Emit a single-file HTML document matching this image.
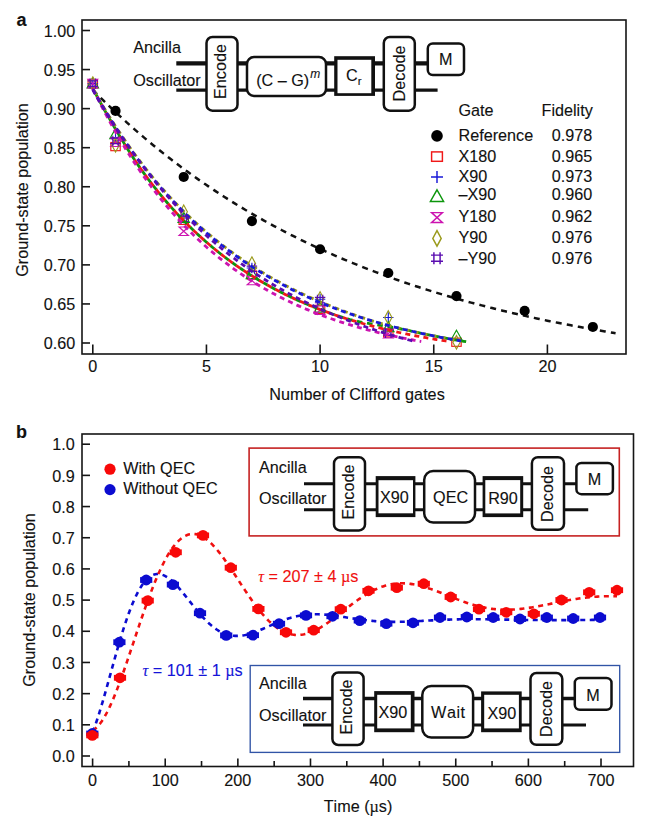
<!DOCTYPE html>
<html><head><meta charset="utf-8"><title>Figure</title>
<style>
html,body{margin:0;padding:0;background:#fff;}
body{width:650px;height:825px;overflow:hidden;}
svg{display:block;font-family:"Liberation Sans",sans-serif;}
text{stroke-width:0.12px;font-kerning:none;}
</style></head><body>
<svg width="650" height="825" viewBox="0 0 650 825">
<rect width="650" height="825" fill="#fff"/>
<g id="panelA">
<rect x="82" y="20" width="544" height="334" fill="none" stroke="#151515" stroke-width="1.6"/>
<line x1="82" x2="90" y1="343.00" y2="343.00" stroke="#151515" stroke-width="1.6"/>
<text transform="translate(75.20,349.20) scale(1,0.972)" font-size="16.2" text-anchor="end" fill="#111" stroke="#111" >0.60</text>
<line x1="82" x2="90" y1="303.94" y2="303.94" stroke="#151515" stroke-width="1.6"/>
<text transform="translate(75.20,310.14) scale(1,0.972)" font-size="16.2" text-anchor="end" fill="#111" stroke="#111" >0.65</text>
<line x1="82" x2="90" y1="264.88" y2="264.88" stroke="#151515" stroke-width="1.6"/>
<text transform="translate(75.20,271.07) scale(1,0.972)" font-size="16.2" text-anchor="end" fill="#111" stroke="#111" >0.70</text>
<line x1="82" x2="90" y1="225.81" y2="225.81" stroke="#151515" stroke-width="1.6"/>
<text transform="translate(75.20,232.01) scale(1,0.972)" font-size="16.2" text-anchor="end" fill="#111" stroke="#111" >0.75</text>
<line x1="82" x2="90" y1="186.75" y2="186.75" stroke="#151515" stroke-width="1.6"/>
<text transform="translate(75.20,192.95) scale(1,0.972)" font-size="16.2" text-anchor="end" fill="#111" stroke="#111" >0.80</text>
<line x1="82" x2="90" y1="147.69" y2="147.69" stroke="#151515" stroke-width="1.6"/>
<text transform="translate(75.20,153.89) scale(1,0.972)" font-size="16.2" text-anchor="end" fill="#111" stroke="#111" >0.85</text>
<line x1="82" x2="90" y1="108.62" y2="108.62" stroke="#151515" stroke-width="1.6"/>
<text transform="translate(75.20,114.82) scale(1,0.972)" font-size="16.2" text-anchor="end" fill="#111" stroke="#111" >0.90</text>
<line x1="82" x2="90" y1="69.56" y2="69.56" stroke="#151515" stroke-width="1.6"/>
<text transform="translate(75.20,75.76) scale(1,0.972)" font-size="16.2" text-anchor="end" fill="#111" stroke="#111" >0.95</text>
<line x1="82" x2="90" y1="30.50" y2="30.50" stroke="#151515" stroke-width="1.6"/>
<text transform="translate(75.20,36.70) scale(1,0.972)" font-size="16.2" text-anchor="end" fill="#111" stroke="#111" >1.00</text>
<line x1="92.80" x2="92.80" y1="344.5" y2="354" stroke="#151515" stroke-width="1.6"/>
<text transform="translate(92.80,371.50) scale(1,0.972)" font-size="16.2" text-anchor="middle" fill="#111" stroke="#111" >0</text>
<line x1="206.45" x2="206.45" y1="344.5" y2="354" stroke="#151515" stroke-width="1.6"/>
<text transform="translate(206.45,371.50) scale(1,0.972)" font-size="16.2" text-anchor="middle" fill="#111" stroke="#111" >5</text>
<line x1="320.10" x2="320.10" y1="344.5" y2="354" stroke="#151515" stroke-width="1.6"/>
<text transform="translate(320.10,371.50) scale(1,0.972)" font-size="16.2" text-anchor="middle" fill="#111" stroke="#111" >10</text>
<line x1="433.75" x2="433.75" y1="344.5" y2="354" stroke="#151515" stroke-width="1.6"/>
<text transform="translate(433.75,371.50) scale(1,0.972)" font-size="16.2" text-anchor="middle" fill="#111" stroke="#111" >15</text>
<line x1="547.40" x2="547.40" y1="344.5" y2="354" stroke="#151515" stroke-width="1.6"/>
<text transform="translate(547.40,371.50) scale(1,0.972)" font-size="16.2" text-anchor="middle" fill="#111" stroke="#111" >20</text>
<text transform="translate(357.00,400.10) scale(1,1.0)" font-size="16.2" text-anchor="middle" fill="#111" stroke="#111" >Number of Clifford gates</text>
<text transform="translate(27.50,190.00) rotate(-90) scale(1,1.0)" font-size="16.2" text-anchor="middle" fill="#111" stroke="#111">Ground-state population</text>
<text x="16.6" y="25.6" font-size="18" font-weight="bold" fill="#111" stroke="#111">a</text>
<path d="M92.80,89.91 L95.43,92.56 L98.05,95.19 L100.68,97.79 L103.31,100.38 L105.94,102.93 L108.56,105.47 L111.19,107.98 L113.82,110.47 L116.44,112.93 L119.07,115.37 L121.70,117.79 L124.33,120.19 L126.95,122.57 L129.58,124.92 L132.21,127.26 L134.83,129.57 L137.46,131.86 L140.09,134.13 L142.71,136.38 L145.34,138.60 L147.97,140.81 L150.60,143.00 L153.22,145.17 L155.85,147.31 L158.48,149.44 L161.10,151.55 L163.73,153.64 L166.36,155.71 L168.99,157.76 L171.61,159.79 L174.24,161.80 L176.87,163.80 L179.49,165.78 L182.12,167.73 L184.75,169.67 L187.38,171.60 L190.00,173.50 L192.63,175.39 L195.26,177.26 L197.88,179.12 L200.51,180.95 L203.14,182.77 L205.76,184.57 L208.39,186.36 L211.02,188.13 L213.65,189.88 L216.27,191.62 L218.90,193.34 L221.53,195.05 L224.15,196.74 L226.78,198.42 L229.41,200.08 L232.04,201.72 L234.66,203.35 L237.29,204.96 L239.92,206.56 L242.54,208.15 L245.17,209.72 L247.80,211.28 L250.43,212.82 L253.05,214.35 L255.68,215.86 L258.31,217.36 L260.93,218.85 L263.56,220.32 L266.19,221.78 L268.81,223.22 L271.44,224.66 L274.07,226.08 L276.70,227.48 L279.32,228.88 L281.95,230.26 L284.58,231.62 L287.20,232.98 L289.83,234.32 L292.46,235.65 L295.09,236.97 L297.71,238.28 L300.34,239.57 L302.97,240.86 L305.59,242.13 L308.22,243.39 L310.85,244.64 L313.48,245.87 L316.10,247.10 L318.73,248.31 L321.36,249.51 L323.98,250.71 L326.61,251.89 L329.24,253.06 L331.86,254.22 L334.49,255.36 L337.12,256.50 L339.75,257.63 L342.37,258.75 L345.00,259.85 L347.63,260.95 L350.25,262.04 L352.88,263.12 L355.51,264.18 L358.14,265.24 L360.76,266.29 L363.39,267.33 L366.02,268.35 L368.64,269.37 L371.27,270.38 L373.90,271.38 L376.53,272.38 L379.15,273.36 L381.78,274.33 L384.41,275.30 L387.03,276.25 L389.66,277.20 L392.29,278.14 L394.91,279.07 L397.54,279.99 L400.17,280.90 L402.80,281.80 L405.42,282.70 L408.05,283.59 L410.68,284.47 L413.30,285.34 L415.93,286.20 L418.56,287.06 L421.19,287.91 L423.81,288.75 L426.44,289.58 L429.07,290.40 L431.69,291.22 L434.32,292.03 L436.95,292.83 L439.58,293.63 L442.20,294.42 L444.83,295.20 L447.46,295.97 L450.08,296.74 L452.71,297.50 L455.34,298.25 L457.96,298.99 L460.59,299.73 L463.22,300.46 L465.85,301.19 L468.47,301.91 L471.10,302.62 L473.73,303.32 L476.35,304.02 L478.98,304.72 L481.61,305.40 L484.24,306.08 L486.86,306.76 L489.49,307.42 L492.12,308.08 L494.74,308.74 L497.37,309.39 L500.00,310.03 L502.63,310.67 L505.25,311.30 L507.88,311.93 L510.51,312.55 L513.13,313.16 L515.76,313.77 L518.39,314.37 L521.01,314.97 L523.64,315.56 L526.27,316.15 L528.90,316.73 L531.52,317.31 L534.15,317.88 L536.78,318.45 L539.40,319.01 L542.03,319.56 L544.66,320.11 L547.29,320.66 L549.91,321.20 L552.54,321.73 L555.17,322.26 L557.79,322.79 L560.42,323.31 L563.05,323.82 L565.68,324.34 L568.30,324.84 L570.93,325.34 L573.56,325.84 L576.18,326.33 L578.81,326.82 L581.44,327.31 L584.06,327.79 L586.69,328.26 L589.32,328.73 L591.95,329.20 L594.57,329.66 L597.20,330.12 L599.83,330.57 L602.45,331.02 L605.08,331.47 L607.71,331.91 L610.34,332.34 L612.96,332.78 L615.59,333.21" fill="none" stroke="#111" stroke-width="2.5" stroke-dasharray="6 5.2"/>
<rect x="88.10" y="79.54" width="9.40" height="8.18" fill="none" stroke="#f01818" stroke-width="1.15"/>
<rect x="110.83" y="142.50" width="9.40" height="8.18" fill="none" stroke="#f01818" stroke-width="1.15"/>
<rect x="179.02" y="216.25" width="9.40" height="8.18" fill="none" stroke="#f01818" stroke-width="1.15"/>
<rect x="247.21" y="270.94" width="9.40" height="8.18" fill="none" stroke="#f01818" stroke-width="1.15"/>
<rect x="315.40" y="305.32" width="9.40" height="8.18" fill="none" stroke="#f01818" stroke-width="1.15"/>
<rect x="383.59" y="328.75" width="9.40" height="8.18" fill="none" stroke="#f01818" stroke-width="1.15"/>
<rect x="451.78" y="338.13" width="9.40" height="8.18" fill="none" stroke="#f01818" stroke-width="1.15"/>
<path d="M87.58,83.62h10.44M92.80,78.40v10.44" stroke="#1818d8" stroke-width="1.15" fill="none"/>
<path d="M110.31,137.69h10.44M115.53,132.47v10.44" stroke="#1818d8" stroke-width="1.15" fill="none"/>
<path d="M178.50,218.00h10.44M183.72,212.78v10.44" stroke="#1818d8" stroke-width="1.15" fill="none"/>
<path d="M246.69,268.00h10.44M251.91,262.78v10.44" stroke="#1818d8" stroke-width="1.15" fill="none"/>
<path d="M314.88,299.25h10.44M320.10,294.03v10.44" stroke="#1818d8" stroke-width="1.15" fill="none"/>
<path d="M383.07,317.53h10.44M388.29,312.31v10.44" stroke="#1818d8" stroke-width="1.15" fill="none"/>
<path d="M92.80,77.88L98.54,87.97L87.06,87.97Z" stroke="#0c960c" stroke-width="1.15" fill="none"/>
<path d="M115.53,128.66L121.27,138.76L109.79,138.76Z" stroke="#0c960c" stroke-width="1.15" fill="none"/>
<path d="M183.72,212.26L189.46,222.35L177.98,222.35Z" stroke="#0c960c" stroke-width="1.15" fill="none"/>
<path d="M251.91,268.51L257.65,278.60L246.17,278.60Z" stroke="#0c960c" stroke-width="1.15" fill="none"/>
<path d="M320.10,302.10L325.84,312.19L314.36,312.19Z" stroke="#0c960c" stroke-width="1.15" fill="none"/>
<path d="M388.29,321.63L394.03,331.73L382.55,331.73Z" stroke="#0c960c" stroke-width="1.15" fill="none"/>
<path d="M456.48,330.23L462.22,340.32L450.74,340.32Z" stroke="#0c960c" stroke-width="1.15" fill="none"/>
<path d="M88.10,79.36h9.40L88.10,87.89h9.40Z" stroke="#cc14b0" stroke-width="1.15" fill="none"/>
<path d="M110.83,137.96h9.40L110.83,146.48h9.40Z" stroke="#cc14b0" stroke-width="1.15" fill="none"/>
<path d="M179.02,227.02h9.40L179.02,235.54h9.40Z" stroke="#cc14b0" stroke-width="1.15" fill="none"/>
<path d="M247.21,276.24h9.40L247.21,284.76h9.40Z" stroke="#cc14b0" stroke-width="1.15" fill="none"/>
<path d="M315.40,305.92h9.40L315.40,314.45h9.40Z" stroke="#cc14b0" stroke-width="1.15" fill="none"/>
<path d="M383.59,329.36h9.40L383.59,337.89h9.40Z" stroke="#cc14b0" stroke-width="1.15" fill="none"/>
<path d="M92.80,76.84L96.45,83.62L92.80,90.41L89.15,83.62Z" stroke="#9a9a1c" stroke-width="1.15" fill="none"/>
<path d="M115.53,138.56L119.18,145.34L115.53,152.13L111.88,145.34Z" stroke="#9a9a1c" stroke-width="1.15" fill="none"/>
<path d="M183.72,204.96L187.37,211.75L183.72,218.54L180.07,211.75Z" stroke="#9a9a1c" stroke-width="1.15" fill="none"/>
<path d="M251.91,256.84L255.56,263.62L251.91,270.41L248.26,263.62Z" stroke="#9a9a1c" stroke-width="1.15" fill="none"/>
<path d="M320.10,291.68L323.75,298.47L320.10,305.25L316.45,298.47Z" stroke="#9a9a1c" stroke-width="1.15" fill="none"/>
<path d="M388.29,310.75L391.94,317.53L388.29,324.32L384.64,317.53Z" stroke="#9a9a1c" stroke-width="1.15" fill="none"/>
<path d="M456.48,335.43L460.13,342.22L456.48,349.00L452.83,342.22Z" stroke="#9a9a1c" stroke-width="1.15" fill="none"/>
<path d="M87.58,80.93h10.44M87.58,86.32h10.44M90.10,78.40v10.44M95.50,78.40v10.44" stroke="#5a0cb0" stroke-width="1.15" fill="none"/>
<path d="M110.31,138.27h10.44M110.31,143.67h10.44M112.83,135.75v10.44M118.23,135.75v10.44" stroke="#5a0cb0" stroke-width="1.15" fill="none"/>
<path d="M178.50,216.08h10.44M178.50,221.48h10.44M181.02,213.56v10.44M186.42,213.56v10.44" stroke="#5a0cb0" stroke-width="1.15" fill="none"/>
<path d="M246.69,266.08h10.44M246.69,271.48h10.44M249.21,263.56v10.44M254.61,263.56v10.44" stroke="#5a0cb0" stroke-width="1.15" fill="none"/>
<path d="M314.88,297.33h10.44M314.88,302.73h10.44M317.40,294.81v10.44M322.80,294.81v10.44" stroke="#5a0cb0" stroke-width="1.15" fill="none"/>
<path d="M383.07,330.15h10.44M383.07,335.54h10.44M385.59,327.62v10.44M390.99,327.62v10.44" stroke="#5a0cb0" stroke-width="1.15" fill="none"/>
<path d="M92.80,88.28L92.86,88.40L92.93,88.52M94.93,92.37L96.05,94.51L97.24,96.75M99.30,100.58L100.43,102.64L101.62,104.80M103.74,108.62L104.93,110.73L106.12,112.83M108.24,116.55L109.43,118.62L110.68,120.78M112.87,124.54L114.12,126.68L115.37,128.81M117.56,132.51L118.81,134.61L120.06,136.70M122.25,140.33L123.50,142.38L124.81,144.53M127.06,148.15L128.37,150.24L129.69,152.31M132.06,155.99L133.37,158.00L134.75,160.07M137.13,163.59L138.50,165.60L139.94,167.67M142.38,171.11L143.81,173.11L145.25,175.09M147.82,178.55L149.32,180.55L150.82,182.52M153.44,185.91L154.94,187.82L156.44,189.71M159.13,193.04L160.69,194.95L162.26,196.83M165.07,200.17L166.63,202.00L168.26,203.88M171.07,207.07L172.70,208.89L174.39,210.75M177.26,213.88L178.95,215.68L180.64,217.46M183.64,220.58L185.33,222.30L187.08,224.06M190.08,227.04L191.83,228.74L193.64,230.48M196.77,233.43L198.58,235.12L200.39,236.77M203.58,239.64L205.39,241.24L207.27,242.87M210.52,245.65L212.40,247.23L214.27,248.78M217.59,251.47L219.52,253.01L221.46,254.54M224.84,257.14L226.78,258.60L228.78,260.10M232.28,262.65L234.28,264.09L236.28,265.50M239.78,267.92L241.78,269.28L243.84,270.66M247.41,272.99L249.47,274.31L251.60,275.66M255.22,277.90L257.35,279.19L259.47,280.46M263.16,282.61L265.29,283.83L267.41,285.03M271.16,287.10L273.29,288.25L275.48,289.41M279.29,291.39L281.48,292.51L283.67,293.60M287.54,295.50L289.73,296.55L291.98,297.61M295.86,299.40L298.11,300.42L300.36,301.42M304.30,303.12L306.55,304.08L308.80,305.02M312.80,306.65L315.05,307.55L317.36,308.46M321.37,309.99L323.68,310.86L325.99,311.71M329.99,313.16L332.31,313.97L334.62,314.77M338.68,316.15L341.00,316.91L343.37,317.68M347.50,318.91L350.00,319.59L352.50,320.21M357.00,321.23L359.63,321.77L362.31,322.30M366.94,323.13L369.69,323.60L372.51,324.07M377.26,324.83L380.01,325.27L382.82,325.72M387.57,326.50L390.26,326.95L393.01,327.43M397.57,328.26L400.14,328.75L402.76,329.27M407.14,330.19L409.52,330.71L411.95,331.27M416.14,332.21L418.52,332.74L420.96,333.27M425.15,334.16L427.52,334.65L429.96,335.15M434.15,335.99L436.52,336.46L438.96,336.93M443.15,337.72L445.59,338.18L448.03,338.62M452.22,339.37L454.65,339.79L457.09,340.21M461.28,340.92L463.72,341.32L466.16,341.72" fill="none" stroke="#0c960c" stroke-width="2.8"/>
<path d="M92.80,88.28 L94.58,91.72 L96.36,95.10 L98.15,98.44 L99.93,101.73 L101.71,104.97 L103.49,108.17 L105.27,111.34 L107.05,114.48 L108.84,117.59 L110.62,120.68 L112.40,123.74 L114.18,126.79 L115.96,129.82 L117.75,132.83 L119.53,135.82 L121.31,138.78 L123.09,141.72 L124.87,144.63 L126.66,147.50 L128.44,150.34 L130.22,153.14 L132.00,155.90 L133.78,158.61 L135.56,161.29 L137.35,163.92 L139.13,166.50 L140.91,169.05 L142.69,171.56 L144.47,174.02 L146.26,176.45 L148.04,178.85 L149.82,181.21 L151.60,183.54 L153.38,185.84 L155.16,188.10 L156.95,190.34 L158.73,192.55 L160.51,194.73 L162.29,196.88 L164.07,199.00 L165.86,201.09 L167.64,203.16 L169.42,205.20 L171.20,207.22 L172.98,209.21 L174.77,211.17 L176.55,213.11 L178.33,215.02 L180.11,216.91 L181.89,218.77 L183.67,220.61 L185.46,222.43 L187.24,224.23 L189.02,226.00 L190.80,227.74 L192.58,229.47 L194.37,231.17 L196.15,232.85 L197.93,234.51 L199.71,236.15 L201.49,237.77 L203.27,239.37 L205.06,240.94 L206.84,242.50 L208.62,244.03 L210.40,245.55 L212.18,247.05 L213.97,248.53 L215.75,249.98 L217.53,251.42 L219.31,252.85 L221.09,254.25 L222.87,255.63 L224.66,257.00 L226.44,258.35 L228.22,259.68 L230.00,261.00 L231.78,262.30 L233.57,263.58 L235.35,264.84 L237.13,266.09 L238.91,267.33 L240.69,268.54 L242.48,269.74 L244.26,270.93 L246.04,272.10 L247.82,273.26 L249.60,274.40 L251.38,275.53 L253.17,276.64 L254.95,277.73 L256.73,278.82 L258.51,279.89 L260.29,280.94 L262.08,281.99 L263.86,283.02 L265.64,284.03 L267.42,285.03 L269.20,286.02 L270.98,287.00 L272.77,287.97 L274.55,288.92 L276.33,289.86 L278.11,290.79 L279.89,291.70 L281.68,292.61 L283.46,293.50 L285.24,294.38 L287.02,295.25 L288.80,296.11 L290.59,296.96 L292.37,297.79 L294.15,298.62 L295.93,299.43 L297.71,300.24 L299.49,301.03 L301.28,301.82 L303.06,302.59 L304.84,303.36 L306.62,304.11 L308.40,304.86 L310.19,305.59 L311.97,306.32 L313.75,307.03 L315.53,307.74 L317.31,308.44 L319.09,309.13 L320.88,309.81 L322.66,310.48 L324.44,311.14 L326.22,311.80 L328.00,312.44 L329.79,313.08 L331.57,313.71 L333.35,314.33 L335.13,314.95 L336.91,315.55 L338.70,316.15 L340.48,316.74 L342.26,317.32 L344.04,317.90 L345.82,318.47 L347.60,319.03 L349.39,319.58 L351.17,320.13 L352.95,320.67 L354.73,321.20 L356.51,321.72 L358.30,322.24 L360.08,322.76 L361.86,323.26 L363.64,323.76 L365.42,324.25 L367.20,324.74 L368.99,325.22 L370.77,325.69 L372.55,326.16 L374.33,326.62 L376.11,327.08 L377.90,327.53 L379.68,327.97 L381.46,328.41 L383.24,328.84 L385.02,329.27 L386.81,329.69 L388.59,330.11 L390.37,330.52 L392.15,330.93 L393.93,331.33 L395.71,331.72 L397.50,332.11 L399.28,332.50 L401.06,332.88 L402.84,333.25 L404.62,333.62 L406.41,333.99 L408.19,334.35 L409.97,334.71 L411.75,335.06 L413.53,335.41 L415.31,335.75 L417.10,336.09 L418.88,336.42 L420.66,336.75 L422.44,337.08 L424.22,337.40 L426.01,337.72 L427.79,338.03 L429.57,338.34 L431.35,338.65 L433.13,338.95 L434.92,339.25 L436.70,339.54 L438.48,339.83 L440.26,340.12 L442.04,340.40 L443.82,340.68 L445.61,340.95 L447.39,341.22" fill="none" stroke="#f01818" stroke-width="2.8" stroke-dasharray="5 4.2" stroke-dashoffset="0"/>
<path d="M92.80,88.69 L94.45,92.08 L96.10,95.43 L97.75,98.74 L99.40,102.01 L101.05,105.24 L102.70,108.43 L104.35,111.58 L106.00,114.69 L107.65,117.76 L109.30,120.80 L110.96,123.80 L112.61,126.76 L114.26,129.68 L115.91,132.57 L117.56,135.43 L119.21,138.24 L120.86,141.03 L122.51,143.78 L124.16,146.49 L125.81,149.18 L127.46,151.83 L129.11,154.45 L130.76,157.03 L132.41,159.59 L134.06,162.11 L135.71,164.60 L137.36,167.06 L139.01,169.49 L140.66,171.89 L142.31,174.26 L143.97,176.61 L145.62,178.92 L147.27,181.21 L148.92,183.46 L150.57,185.69 L152.22,187.89 L153.87,190.07 L155.52,192.22 L157.17,194.34 L158.82,196.44 L160.47,198.51 L162.12,200.55 L163.77,202.57 L165.42,204.57 L167.07,206.54 L168.72,208.49 L170.37,210.41 L172.02,212.31 L173.67,214.18 L175.32,216.04 L176.98,217.87 L178.63,219.67 L180.28,221.46 L181.93,223.22 L183.58,224.96 L185.23,226.69 L186.88,228.38 L188.53,230.06 L190.18,231.72 L191.83,233.36 L193.48,234.98 L195.13,236.57 L196.78,238.15 L198.43,239.71 L200.08,241.25 L201.73,242.77 L203.38,244.27 L205.03,245.76 L206.68,247.22 L208.33,248.67 L209.99,250.10 L211.64,251.51 L213.29,252.91 L214.94,254.29 L216.59,255.65 L218.24,256.99 L219.89,258.32 L221.54,259.63 L223.19,260.93 L224.84,262.20 L226.49,263.47 L228.14,264.72 L229.79,265.95 L231.44,267.17 L233.09,268.37 L234.74,269.56 L236.39,270.73 L238.04,271.89 L239.69,273.04 L241.34,274.17 L243.00,275.28 L244.65,276.39 L246.30,277.48 L247.95,278.55 L249.60,279.62 L251.25,280.67 L252.90,281.70 L254.55,282.73 L256.20,283.74 L257.85,284.74 L259.50,285.73 L261.15,286.70 L262.80,287.67 L264.45,288.62 L266.10,289.56 L267.75,290.49 L269.40,291.40 L271.05,292.31 L272.70,293.20 L274.35,294.09 L276.00,294.96 L277.66,295.82 L279.31,296.67 L280.96,297.51 L282.61,298.34 L284.26,299.17 L285.91,299.98 L287.56,300.78 L289.21,301.57 L290.86,302.35 L292.51,303.12 L294.16,303.88 L295.81,304.63 L297.46,305.38 L299.11,306.11 L300.76,306.84 L302.41,307.55 L304.06,308.26 L305.71,308.96 L307.36,309.65 L309.01,310.33 L310.67,311.00 L312.32,311.67 L313.97,312.33 L315.62,312.98 L317.27,313.62 L318.92,314.25 L320.57,314.88 L322.22,315.49 L323.87,316.10 L325.52,316.71 L327.17,317.30 L328.82,317.89 L330.47,318.47 L332.12,319.04 L333.77,319.61 L335.42,320.17 L337.07,320.72 L338.72,321.27 L340.37,321.81 L342.02,322.34 L343.68,322.87 L345.33,323.39 L346.98,323.90 L348.63,324.41 L350.28,324.91 L351.93,325.40 L353.58,325.89 L355.23,326.37 L356.88,326.85 L358.53,327.32 L360.18,327.79 L361.83,328.25 L363.48,328.70 L365.13,329.15 L366.78,329.59 L368.43,330.03 L370.08,330.46 L371.73,330.89 L373.38,331.31 L375.03,331.72 L376.69,332.13 L378.34,332.54 L379.99,332.94 L381.64,333.34 L383.29,333.73 L384.94,334.11 L386.59,334.50 L388.24,334.87 L389.89,335.25 L391.54,335.61 L393.19,335.98 L394.84,336.34 L396.49,336.69 L398.14,337.04 L399.79,337.39 L401.44,337.73 L403.09,338.07 L404.74,338.40 L406.39,338.73 L408.04,339.05 L409.70,339.37 L411.35,339.69 L413.00,340.00 L414.65,340.31 L416.30,340.62 L417.95,340.92 L419.60,341.22 L421.25,341.51" fill="none" stroke="#cc14b0" stroke-width="2.8" stroke-dasharray="5 4.2" stroke-dashoffset="0"/>
<path d="M92.80,88.44 L94.65,91.73 L96.50,94.98 L98.35,98.20 L100.20,101.37 L102.05,104.51 L103.90,107.61 L105.75,110.67 L107.60,113.70 L109.45,116.69 L111.30,119.64 L113.15,122.56 L115.00,125.45 L116.85,128.30 L118.71,131.11 L120.56,133.89 L122.41,136.64 L124.26,139.36 L126.11,142.04 L127.96,144.70 L129.81,147.32 L131.66,149.90 L133.51,152.46 L135.36,154.99 L137.21,157.49 L139.06,159.95 L140.91,162.39 L142.76,164.80 L144.61,167.17 L146.46,169.52 L148.31,171.85 L150.16,174.14 L152.01,176.40 L153.86,178.64 L155.71,180.85 L157.56,183.04 L159.41,185.20 L161.26,187.33 L163.11,189.44 L164.96,191.52 L166.82,193.57 L168.67,195.60 L170.52,197.61 L172.37,199.59 L174.22,201.55 L176.07,203.48 L177.92,205.39 L179.77,207.28 L181.62,209.14 L183.47,210.99 L185.32,212.81 L187.17,214.60 L189.02,216.38 L190.87,218.14 L192.72,219.87 L194.57,221.58 L196.42,223.28 L198.27,224.95 L200.12,226.60 L201.97,228.24 L203.82,229.85 L205.67,231.44 L207.52,233.02 L209.37,234.58 L211.22,236.12 L213.07,237.64 L214.93,239.14 L216.78,240.63 L218.63,242.10 L220.48,243.55 L222.33,244.99 L224.18,246.41 L226.03,247.81 L227.88,249.20 L229.73,250.57 L231.58,251.93 L233.43,253.27 L235.28,254.59 L237.13,255.90 L238.98,257.20 L240.83,258.48 L242.68,259.75 L244.53,261.00 L246.38,262.24 L248.23,263.47 L250.08,264.68 L251.93,265.88 L253.78,267.07 L255.63,268.24 L257.48,269.40 L259.33,270.54 L261.18,271.68 L263.04,272.80 L264.89,273.91 L266.74,275.00 L268.59,276.08 L270.44,277.16 L272.29,278.22 L274.14,279.26 L275.99,280.30 L277.84,281.32 L279.69,282.33 L281.54,283.33 L283.39,284.32 L285.24,285.30 L287.09,286.27 L288.94,287.22 L290.79,288.16 L292.64,289.10 L294.49,290.02 L296.34,290.93 L298.19,291.83 L300.04,292.72 L301.89,293.60 L303.74,294.46 L305.59,295.32 L307.44,296.17 L309.29,297.01 L311.15,297.83 L313.00,298.65 L314.85,299.46 L316.70,300.25 L318.55,301.04 L320.40,301.82 L322.25,302.59 L324.10,303.35 L325.95,304.11 L327.80,304.86 L329.65,305.61 L331.50,306.35 L333.35,307.08 L335.20,307.81 L337.05,308.52 L338.90,309.24 L340.75,309.94 L342.60,310.64 L344.45,311.33 L346.30,312.01 L348.15,312.69 L350.00,313.36 L351.85,314.02 L353.70,314.68 L355.55,315.32 L357.40,315.96 L359.25,316.60 L361.11,317.22 L362.96,317.84 L364.81,318.44 L366.66,319.04 L368.51,319.63 L370.36,320.22 L372.21,320.79 L374.06,321.36 L375.91,321.92 L377.76,322.47 L379.61,323.01 L381.46,323.54 L383.31,324.06 L385.16,324.57 L387.01,325.08 L388.86,325.57 L390.71,326.06 L392.56,326.54 L394.41,327.02 L396.26,327.49 L398.11,327.96 L399.96,328.42 L401.81,328.87 L403.66,329.32 L405.51,329.76 L407.36,330.20 L409.22,330.64 L411.07,331.06 L412.92,331.49 L414.77,331.90 L416.62,332.32 L418.47,332.72 L420.32,333.13 L422.17,333.53 L424.02,333.92 L425.87,334.31 L427.72,334.69 L429.57,335.07 L431.42,335.45 L433.27,335.82 L435.12,336.18 L436.97,336.55 L438.82,336.90 L440.67,337.26 L442.52,337.61 L444.37,337.95 L446.22,338.29 L448.07,338.63 L449.92,338.96 L451.77,339.29 L453.62,339.62 L455.47,339.94 L457.33,340.25 L459.18,340.57 L461.03,340.88" fill="none" stroke="#9a9a1c" stroke-width="2.8" stroke-dasharray="5 4.2" stroke-dashoffset="-2.2"/>
<path d="M92.80,89.22 L94.65,92.51 L96.50,95.76 L98.35,98.98 L100.20,102.15 L102.05,105.29 L103.90,108.39 L105.75,111.45 L107.60,114.48 L109.45,117.47 L111.30,120.42 L113.15,123.34 L115.00,126.23 L116.85,129.08 L118.71,131.89 L120.56,134.68 L122.41,137.42 L124.26,140.14 L126.11,142.83 L127.96,145.48 L129.81,148.10 L131.66,150.69 L133.51,153.24 L135.36,155.77 L137.21,158.27 L139.06,160.73 L140.91,163.17 L142.76,165.58 L144.61,167.96 L146.46,170.31 L148.31,172.63 L150.16,174.92 L152.01,177.19 L153.86,179.42 L155.71,181.64 L157.56,183.82 L159.41,185.98 L161.26,188.11 L163.11,190.22 L164.96,192.30 L166.82,194.35 L168.67,196.38 L170.52,198.39 L172.37,200.37 L174.22,202.33 L176.07,204.26 L177.92,206.17 L179.77,208.06 L181.62,209.93 L183.47,211.77 L185.32,213.59 L187.17,215.39 L189.02,217.16 L190.87,218.92 L192.72,220.65 L194.57,222.36 L196.42,224.06 L198.27,225.73 L200.12,227.38 L201.97,229.02 L203.82,230.63 L205.67,232.23 L207.52,233.80 L209.37,235.36 L211.22,236.90 L213.07,238.42 L214.93,239.93 L216.78,241.41 L218.63,242.88 L220.48,244.33 L222.33,245.77 L224.18,247.19 L226.03,248.59 L227.88,249.98 L229.73,251.35 L231.58,252.71 L233.43,254.05 L235.28,255.37 L237.13,256.69 L238.98,257.98 L240.83,259.26 L242.68,260.53 L244.53,261.79 L246.38,263.02 L248.23,264.25 L250.08,265.46 L251.93,266.66 L253.78,267.85 L255.63,269.02 L257.48,270.18 L259.33,271.32 L261.18,272.46 L263.04,273.58 L264.89,274.69 L266.74,275.78 L268.59,276.87 L270.44,277.94 L272.29,279.00 L274.14,280.04 L275.99,281.08 L277.84,282.10 L279.69,283.11 L281.54,284.11 L283.39,285.10 L285.24,286.08 L287.09,287.05 L288.94,288.00 L290.79,288.95 L292.64,289.88 L294.49,290.80 L296.34,291.71 L298.19,292.61 L300.04,293.50 L301.89,294.38 L303.74,295.25 L305.59,296.10 L307.44,296.95 L309.29,297.79 L311.15,298.61 L313.00,299.43 L314.85,300.24 L316.70,301.03 L318.55,301.82 L320.40,302.60 L322.25,303.37 L324.10,304.13 L325.95,304.88 L327.80,305.62 L329.65,306.35 L331.50,307.07 L333.35,307.78 L335.20,308.49 L337.05,309.18 L338.90,309.87 L340.75,310.55 L342.60,311.22 L344.45,311.88 L346.30,312.54 L348.15,313.19 L350.00,313.82 L351.85,314.45 L353.70,315.08 L355.55,315.69 L357.40,316.30 L359.25,316.90 L361.11,317.49 L362.96,318.08 L364.81,318.66 L366.66,319.23 L368.51,319.79 L370.36,320.35 L372.21,320.90 L374.06,321.45 L375.91,321.99 L377.76,322.52 L379.61,323.04 L381.46,323.56 L383.31,324.07 L385.16,324.58 L387.01,325.08 L388.86,325.57 L390.71,326.06 L392.56,326.54 L394.41,327.02 L396.26,327.49 L398.11,327.96 L399.96,328.42 L401.81,328.87 L403.66,329.32 L405.51,329.76 L407.36,330.20 L409.22,330.64 L411.07,331.06 L412.92,331.49 L414.77,331.90 L416.62,332.32 L418.47,332.72 L420.32,333.13 L422.17,333.53 L424.02,333.92 L425.87,334.31 L427.72,334.69 L429.57,335.07 L431.42,335.45 L433.27,335.82 L435.12,336.18 L436.97,336.55 L438.82,336.90 L440.67,337.26 L442.52,337.61 L444.37,337.95 L446.22,338.29 L448.07,338.63 L449.92,338.96 L451.77,339.29 L453.62,339.62 L455.47,339.94 L457.33,340.25 L459.18,340.57 L461.03,340.88" fill="none" stroke="#1818d8" stroke-width="2.8" stroke-dasharray="5 4.2" stroke-dashoffset="0"/>
<path d="M92.80,89.93 L94.42,92.78 L96.04,95.59 L97.67,98.38 L99.29,101.14 L100.91,103.88 L102.53,106.59 L104.15,109.27 L105.78,111.93 L107.40,114.56 L109.02,117.16 L110.64,119.74 L112.26,122.30 L113.89,124.83 L115.51,127.34 L117.13,129.82 L118.75,132.28 L120.37,134.72 L121.99,137.13 L123.62,139.52 L125.24,141.88 L126.86,144.23 L128.48,146.55 L130.10,148.85 L131.73,151.13 L133.35,153.38 L134.97,155.61 L136.59,157.83 L138.21,160.02 L139.84,162.19 L141.46,164.34 L143.08,166.47 L144.70,168.57 L146.32,170.66 L147.95,172.73 L149.57,174.78 L151.19,176.81 L152.81,178.82 L154.43,180.81 L156.06,182.78 L157.68,184.74 L159.30,186.67 L160.92,188.59 L162.54,190.49 L164.17,192.37 L165.79,194.23 L167.41,196.07 L169.03,197.90 L170.65,199.71 L172.28,201.50 L173.90,203.28 L175.52,205.04 L177.14,206.78 L178.76,208.51 L180.38,210.22 L182.01,211.91 L183.63,213.58 L185.25,215.25 L186.87,216.89 L188.49,218.52 L190.12,220.13 L191.74,221.73 L193.36,223.31 L194.98,224.88 L196.60,226.43 L198.23,227.97 L199.85,229.49 L201.47,231.00 L203.09,232.50 L204.71,233.97 L206.34,235.44 L207.96,236.89 L209.58,238.33 L211.20,239.75 L212.82,241.16 L214.45,242.55 L216.07,243.93 L217.69,245.30 L219.31,246.65 L220.93,247.99 L222.56,249.32 L224.18,250.63 L225.80,251.93 L227.42,253.22 L229.04,254.50 L230.66,255.76 L232.29,257.01 L233.91,258.24 L235.53,259.47 L237.15,260.68 L238.77,261.88 L240.40,263.07 L242.02,264.24 L243.64,265.41 L245.26,266.56 L246.88,267.70 L248.51,268.83 L250.13,269.95 L251.75,271.05 L253.37,272.15 L254.99,273.23 L256.62,274.31 L258.24,275.37 L259.86,276.42 L261.48,277.46 L263.10,278.49 L264.73,279.51 L266.35,280.52 L267.97,281.52 L269.59,282.51 L271.21,283.49 L272.84,284.46 L274.46,285.42 L276.08,286.37 L277.70,287.31 L279.32,288.24 L280.95,289.16 L282.57,290.08 L284.19,290.98 L285.81,291.88 L287.43,292.76 L289.05,293.64 L290.68,294.51 L292.30,295.37 L293.92,296.23 L295.54,297.07 L297.16,297.91 L298.79,298.74 L300.41,299.56 L302.03,300.37 L303.65,301.17 L305.27,301.97 L306.90,302.76 L308.52,303.54 L310.14,304.32 L311.76,305.08 L313.38,305.84 L315.01,306.60 L316.63,307.34 L318.25,308.08 L319.87,308.81 L321.49,309.54 L323.12,310.25 L324.74,310.96 L326.36,311.67 L327.98,312.37 L329.60,313.06 L331.23,313.74 L332.85,314.42 L334.47,315.09 L336.09,315.76 L337.71,316.42 L339.33,317.07 L340.96,317.72 L342.58,318.36 L344.20,318.99 L345.82,319.62 L347.44,320.25 L349.07,320.86 L350.69,321.47 L352.31,322.08 L353.93,322.68 L355.55,323.27 L357.18,323.86 L358.80,324.45 L360.42,325.02 L362.04,325.60 L363.66,326.16 L365.29,326.72 L366.91,327.28 L368.53,327.83 L370.15,328.38 L371.77,328.92 L373.40,329.45 L375.02,329.98 L376.64,330.51 L378.26,331.03 L379.88,331.54 L381.51,332.05 L383.13,332.56 L384.75,333.06 L386.37,333.55 L387.99,334.04 L389.61,334.53 L391.24,335.01 L392.86,335.49 L394.48,335.96 L396.10,336.43 L397.72,336.89 L399.35,337.35 L400.97,337.80 L402.59,338.25 L404.21,338.70 L405.83,339.14 L407.46,339.58 L409.08,340.01 L410.70,340.44 L412.32,340.86 L413.94,341.29 L415.57,341.70" fill="none" stroke="#5a0cb0" stroke-width="2.8" stroke-dasharray="5 4.2" stroke-dashoffset="0"/>
<circle cx="115.53" cy="110.97" r="5.1" fill="#000"/>
<circle cx="183.72" cy="176.98" r="5.1" fill="#000"/>
<circle cx="251.91" cy="221.12" r="5.1" fill="#000"/>
<circle cx="320.10" cy="249.25" r="5.1" fill="#000"/>
<circle cx="388.29" cy="273.00" r="5.1" fill="#000"/>
<circle cx="456.48" cy="296.12" r="5.1" fill="#000"/>
<circle cx="524.67" cy="310.97" r="5.1" fill="#000"/>
<circle cx="592.86" cy="326.98" r="5.1" fill="#000"/>
<text transform="translate(458.50,116.00) scale(1,1.0)" font-size="16.2" text-anchor="start" fill="#111" stroke="#111" >Gate</text>
<text transform="translate(541.50,116.00) scale(1,1.0)" font-size="16.2" text-anchor="start" fill="#111" stroke="#111" >Fidelity</text>
<text transform="translate(458.50,141.20) scale(1,1.0)" font-size="16.2" text-anchor="start" fill="#111" stroke="#111" >Reference</text>
<text transform="translate(551.70,141.20) scale(1,0.972)" font-size="16.2" text-anchor="start" fill="#111" stroke="#111" >0.978</text>
<text transform="translate(458.50,162.00) scale(1,1.0)" font-size="16.2" text-anchor="start" fill="#111" stroke="#111" >X180</text>
<text transform="translate(551.70,162.00) scale(1,0.972)" font-size="16.2" text-anchor="start" fill="#111" stroke="#111" >0.965</text>
<text transform="translate(458.50,181.80) scale(1,1.0)" font-size="16.2" text-anchor="start" fill="#111" stroke="#111" >X90</text>
<text transform="translate(551.70,181.80) scale(1,0.972)" font-size="16.2" text-anchor="start" fill="#111" stroke="#111" >0.973</text>
<text transform="translate(458.50,200.40) scale(1,1.0)" font-size="16.2" text-anchor="start" fill="#111" stroke="#111" >–X90</text>
<text transform="translate(551.70,200.40) scale(1,0.972)" font-size="16.2" text-anchor="start" fill="#111" stroke="#111" >0.960</text>
<text transform="translate(458.50,221.80) scale(1,1.0)" font-size="16.2" text-anchor="start" fill="#111" stroke="#111" >Y180</text>
<text transform="translate(551.70,221.80) scale(1,0.972)" font-size="16.2" text-anchor="start" fill="#111" stroke="#111" >0.962</text>
<text transform="translate(458.50,243.00) scale(1,1.0)" font-size="16.2" text-anchor="start" fill="#111" stroke="#111" >Y90</text>
<text transform="translate(551.70,243.00) scale(1,0.972)" font-size="16.2" text-anchor="start" fill="#111" stroke="#111" >0.976</text>
<text transform="translate(458.50,263.70) scale(1,1.0)" font-size="16.2" text-anchor="start" fill="#111" stroke="#111" >–Y90</text>
<text transform="translate(551.70,263.70) scale(1,0.972)" font-size="16.2" text-anchor="start" fill="#111" stroke="#111" >0.976</text>
<circle cx="437.00" cy="135.90" r="5.8" fill="#000"/>
<rect x="431.60" y="151.90" width="10.80" height="9.40" fill="none" stroke="#f01818" stroke-width="1.45"/>
<path d="M431.00,177.00h12.00M437.00,171.00v12.00" stroke="#1818d8" stroke-width="1.45" fill="none"/>
<path d="M437.00,189.80L443.60,201.40L430.40,201.40Z" stroke="#0c960c" stroke-width="1.45" fill="none"/>
<path d="M431.60,212.60h10.80L431.60,222.40h10.80Z" stroke="#cc14b0" stroke-width="1.45" fill="none"/>
<path d="M437.00,230.60L441.20,238.40L437.00,246.20L432.80,238.40Z" stroke="#9a9a1c" stroke-width="1.45" fill="none"/>
<path d="M431.00,255.10h12.00M431.00,261.30h12.00M433.90,252.20v12.00M440.10,252.20v12.00" stroke="#5a0cb0" stroke-width="1.45" fill="none"/>
<text transform="translate(133.20,52.90) scale(1,1.0)" font-size="16.2" text-anchor="start" fill="#111" stroke="#111" >Ancilla</text>
<text transform="translate(133.20,85.50) scale(1,1.0)" font-size="16.2" text-anchor="start" fill="#111" stroke="#111" >Oscillator</text>
<line x1="176.3" x2="437.6" y1="90.1" y2="90.1" stroke="#111" stroke-width="3.3"/>
<line x1="176.3" x2="430" y1="63.4" y2="63.4" stroke="#111" stroke-width="4.3"/>
<rect x="206.5" y="37" width="31.00" height="73.70" rx="6" ry="6" fill="#fff" stroke="#111" stroke-width="2.5"/>
<text transform="translate(225.50,71.50) rotate(-90) scale(1,1.0)" font-size="16.2" text-anchor="middle" fill="#111" stroke="#111">Encode</text>
<rect x="247" y="57" width="79.00" height="39.00" rx="7" ry="7" fill="#fff" stroke="#111" stroke-width="2.5"/>
<text transform="translate(256.2,86.2) scale(1,1.0)" font-size="16.2" fill="#111" stroke="#111">(C – G)<tspan dy="-8.5" dx="1" font-size="12" font-style="italic">m</tspan></text>
<rect x="334.2" y="56.2" width="40.80" height="39.70" fill="#111"/><rect x="337.5" y="59.8" width="33.80" height="33.40" fill="#fff"/>
<text transform="translate(346,81.3) scale(1,1.0)" font-size="16.2" fill="#111" stroke="#111">C<tspan dy="4" font-size="11.5">r</tspan></text>
<rect x="383.8" y="37" width="31.00" height="73.70" rx="6" ry="6" fill="#fff" stroke="#111" stroke-width="2.5"/>
<text transform="translate(405.40,73.50) rotate(-90) scale(1,1.0)" font-size="16.2" text-anchor="middle" fill="#111" stroke="#111">Decode</text>
<rect x="427.8" y="43.4" width="36.20" height="31.60" rx="5" ry="5" fill="#fff" stroke="#111" stroke-width="2.5"/>
<text transform="translate(445.80,65.20) scale(1,1.0)" font-size="16.2" text-anchor="middle" fill="#111" stroke="#111" >M</text>
</g>
<g id="panelB">
<rect x="82" y="434" width="551.5" height="332.5" fill="none" stroke="#151515" stroke-width="1.6"/>
<line x1="82" x2="90" y1="756.00" y2="756.00" stroke="#151515" stroke-width="1.6"/>
<text transform="translate(74.80,762.20) scale(1,0.972)" font-size="16.2" text-anchor="end" fill="#111" stroke="#111" >0.0</text>
<line x1="82" x2="90" y1="724.82" y2="724.82" stroke="#151515" stroke-width="1.6"/>
<text transform="translate(74.80,731.02) scale(1,0.972)" font-size="16.2" text-anchor="end" fill="#111" stroke="#111" >0.1</text>
<line x1="82" x2="90" y1="693.64" y2="693.64" stroke="#151515" stroke-width="1.6"/>
<text transform="translate(74.80,699.84) scale(1,0.972)" font-size="16.2" text-anchor="end" fill="#111" stroke="#111" >0.2</text>
<line x1="82" x2="90" y1="662.46" y2="662.46" stroke="#151515" stroke-width="1.6"/>
<text transform="translate(74.80,668.66) scale(1,0.972)" font-size="16.2" text-anchor="end" fill="#111" stroke="#111" >0.3</text>
<line x1="82" x2="90" y1="631.28" y2="631.28" stroke="#151515" stroke-width="1.6"/>
<text transform="translate(74.80,637.48) scale(1,0.972)" font-size="16.2" text-anchor="end" fill="#111" stroke="#111" >0.4</text>
<line x1="82" x2="90" y1="600.10" y2="600.10" stroke="#151515" stroke-width="1.6"/>
<text transform="translate(74.80,606.30) scale(1,0.972)" font-size="16.2" text-anchor="end" fill="#111" stroke="#111" >0.5</text>
<line x1="82" x2="90" y1="568.92" y2="568.92" stroke="#151515" stroke-width="1.6"/>
<text transform="translate(74.80,575.12) scale(1,0.972)" font-size="16.2" text-anchor="end" fill="#111" stroke="#111" >0.6</text>
<line x1="82" x2="90" y1="537.74" y2="537.74" stroke="#151515" stroke-width="1.6"/>
<text transform="translate(74.80,543.94) scale(1,0.972)" font-size="16.2" text-anchor="end" fill="#111" stroke="#111" >0.7</text>
<line x1="82" x2="90" y1="506.56" y2="506.56" stroke="#151515" stroke-width="1.6"/>
<text transform="translate(74.80,512.76) scale(1,0.972)" font-size="16.2" text-anchor="end" fill="#111" stroke="#111" >0.8</text>
<line x1="82" x2="90" y1="475.38" y2="475.38" stroke="#151515" stroke-width="1.6"/>
<text transform="translate(74.80,481.58) scale(1,0.972)" font-size="16.2" text-anchor="end" fill="#111" stroke="#111" >0.9</text>
<line x1="82" x2="90" y1="444.20" y2="444.20" stroke="#151515" stroke-width="1.6"/>
<text transform="translate(74.80,450.40) scale(1,0.972)" font-size="16.2" text-anchor="end" fill="#111" stroke="#111" >1.0</text>
<line x1="92.60" x2="92.60" y1="758.5" y2="766.5" stroke="#151515" stroke-width="1.6"/>
<text transform="translate(92.60,785.60) scale(1,0.972)" font-size="16.2" text-anchor="middle" fill="#111" stroke="#111" >0</text>
<line x1="128.91" x2="128.91" y1="761" y2="766.5" stroke="#151515" stroke-width="1.6"/>
<line x1="165.23" x2="165.23" y1="758.5" y2="766.5" stroke="#151515" stroke-width="1.6"/>
<text transform="translate(165.23,785.60) scale(1,0.972)" font-size="16.2" text-anchor="middle" fill="#111" stroke="#111" >100</text>
<line x1="201.54" x2="201.54" y1="761" y2="766.5" stroke="#151515" stroke-width="1.6"/>
<line x1="237.86" x2="237.86" y1="758.5" y2="766.5" stroke="#151515" stroke-width="1.6"/>
<text transform="translate(237.86,785.60) scale(1,0.972)" font-size="16.2" text-anchor="middle" fill="#111" stroke="#111" >200</text>
<line x1="274.17" x2="274.17" y1="761" y2="766.5" stroke="#151515" stroke-width="1.6"/>
<line x1="310.49" x2="310.49" y1="758.5" y2="766.5" stroke="#151515" stroke-width="1.6"/>
<text transform="translate(310.49,785.60) scale(1,0.972)" font-size="16.2" text-anchor="middle" fill="#111" stroke="#111" >300</text>
<line x1="346.80" x2="346.80" y1="761" y2="766.5" stroke="#151515" stroke-width="1.6"/>
<line x1="383.12" x2="383.12" y1="758.5" y2="766.5" stroke="#151515" stroke-width="1.6"/>
<text transform="translate(383.12,785.60) scale(1,0.972)" font-size="16.2" text-anchor="middle" fill="#111" stroke="#111" >400</text>
<line x1="419.43" x2="419.43" y1="761" y2="766.5" stroke="#151515" stroke-width="1.6"/>
<line x1="455.75" x2="455.75" y1="758.5" y2="766.5" stroke="#151515" stroke-width="1.6"/>
<text transform="translate(455.75,785.60) scale(1,0.972)" font-size="16.2" text-anchor="middle" fill="#111" stroke="#111" >500</text>
<line x1="492.06" x2="492.06" y1="761" y2="766.5" stroke="#151515" stroke-width="1.6"/>
<line x1="528.38" x2="528.38" y1="758.5" y2="766.5" stroke="#151515" stroke-width="1.6"/>
<text transform="translate(528.38,785.60) scale(1,0.972)" font-size="16.2" text-anchor="middle" fill="#111" stroke="#111" >600</text>
<line x1="564.69" x2="564.69" y1="761" y2="766.5" stroke="#151515" stroke-width="1.6"/>
<line x1="601.01" x2="601.01" y1="758.5" y2="766.5" stroke="#151515" stroke-width="1.6"/>
<text transform="translate(601.01,785.60) scale(1,0.972)" font-size="16.2" text-anchor="middle" fill="#111" stroke="#111" >700</text>
<text transform="translate(358,812) scale(1,1.0)" font-size="16.2" text-anchor="middle" fill="#111" stroke="#111">Time (<tspan font-family="Liberation Serif, serif">µ</tspan>s)</text>
<text transform="translate(34.50,600.00) rotate(-90) scale(1,1.0)" font-size="16.2" text-anchor="middle" fill="#111" stroke="#111">Ground-state population</text>
<text x="16" y="438" font-size="18" font-weight="bold" fill="#111" stroke="#111">b</text>
<path d="M92.60,732.26 L93.88,728.94 L95.17,725.42 L96.45,721.71 L97.73,717.84 L99.02,713.83 L100.30,709.67 L101.58,705.40 L102.87,701.04 L104.15,696.58 L105.43,692.06 L106.72,687.48 L108.00,682.86 L109.28,678.22 L110.57,673.57 L111.85,668.92 L113.13,664.29 L114.42,659.69 L115.70,655.13 L116.98,650.62 L118.27,646.17 L119.55,641.80 L120.83,637.51 L122.12,633.32 L123.40,629.23 L124.68,625.25 L125.97,621.38 L127.25,617.65 L128.53,614.04 L129.82,610.57 L131.10,607.25 L132.38,604.07 L133.67,601.05 L134.95,598.18 L136.23,595.47 L137.52,592.91 L138.80,590.53 L140.08,588.30 L141.37,586.24 L142.65,584.35 L143.93,582.62 L145.22,581.05 L146.50,579.65 L147.78,578.41 L149.07,577.32 L150.35,576.40 L151.63,575.63 L152.92,575.02 L154.20,574.55 L155.48,574.22 L156.77,574.04 L158.05,574.00 L159.33,574.08 L160.62,574.30 L161.90,574.64 L163.18,575.09 L164.47,575.66 L165.75,576.33 L167.03,577.11 L168.32,577.98 L169.60,578.94 L170.88,579.99 L172.17,581.11 L173.45,582.31 L174.73,583.58 L176.02,584.90 L177.30,586.28 L178.58,587.71 L179.87,589.19 L181.15,590.70 L182.43,592.24 L183.72,593.81 L185.00,595.41 L186.28,597.02 L187.57,598.64 L188.85,600.26 L190.13,601.89 L191.42,603.51 L192.70,605.13 L193.98,606.73 L195.26,608.32 L196.55,609.89 L197.83,611.43 L199.11,612.95 L200.40,614.43 L201.68,615.88 L202.96,617.30 L204.25,618.67 L205.53,620.00 L206.81,621.28 L208.10,622.52 L209.38,623.71 L210.66,624.85 L211.95,625.93 L213.23,626.96 L214.51,627.94 L215.80,628.86 L217.08,629.73 L218.36,630.54 L219.65,631.29 L220.93,631.98 L222.21,632.61 L223.50,633.19 L224.78,633.71 L226.06,634.17 L227.35,634.58 L228.63,634.93 L229.91,635.22 L231.20,635.47 L232.48,635.66 L233.76,635.80 L235.05,635.88 L236.33,635.92 L237.61,635.92 L238.90,635.86 L240.18,635.77 L241.46,635.63 L242.75,635.45 L244.03,635.23 L245.31,634.98 L246.60,634.69 L247.88,634.37 L249.16,634.02 L250.45,633.64 L251.73,633.23 L253.01,632.80 L254.30,632.35 L255.58,631.87 L256.86,631.38 L258.15,630.87 L259.43,630.35 L260.71,629.81 L262.00,629.27 L263.28,628.72 L264.56,628.16 L265.85,627.59 L267.13,627.02 L268.41,626.45 L269.70,625.88 L270.98,625.32 L272.26,624.75 L273.55,624.19 L274.83,623.64 L276.11,623.10 L277.40,622.56 L278.68,622.04 L279.96,621.52 L281.25,621.02 L282.53,620.53 L283.81,620.06 L285.10,619.60 L286.38,619.16 L287.66,618.74 L288.95,618.33 L290.23,617.94 L291.51,617.57 L292.80,617.22 L294.08,616.89 L295.36,616.57 L296.65,616.28 L297.93,616.01 L299.21,615.76 L300.50,615.52 L301.78,615.31 L303.06,615.12 L304.35,614.95 L305.63,614.80 L306.91,614.66 L308.20,614.55 L309.48,614.46 L310.76,614.38 L312.05,614.32 L313.33,614.28 L314.61,614.26 L315.90,614.26 L317.18,614.27 L318.46,614.29 L319.75,614.33 L321.03,614.39 L322.31,614.46 L323.60,614.54 L324.88,614.64 L326.16,614.74 L327.45,614.86 L328.73,614.99 L330.01,615.13 L331.30,615.27 L332.58,615.43 L333.86,615.59 L335.15,615.76 L336.43,615.93 L337.71,616.11 L339.00,616.30 L340.28,616.49 L341.56,616.68 L342.85,616.88 L344.13,617.07 L345.41,617.27 L346.70,617.47 L347.98,617.67 L349.26,617.87 L350.55,618.07 L351.83,618.26 L353.11,618.46 L354.40,618.65 L355.68,618.84 L356.96,619.02 L358.25,619.21 L359.53,619.38 L360.81,619.56 L362.10,619.72 L363.38,619.89 L364.66,620.04 L365.95,620.20 L367.23,620.34 L368.51,620.48 L369.80,620.61 L371.08,620.74 L372.36,620.86 L373.65,620.97 L374.93,621.08 L376.21,621.18 L377.50,621.27 L378.78,621.35 L380.06,621.43 L381.35,621.50 L382.63,621.57 L383.91,621.62 L385.20,621.67 L386.48,621.72 L387.76,621.75 L389.05,621.78 L390.33,621.81 L391.61,621.82 L392.90,621.83 L394.18,621.84 L395.46,621.84 L396.74,621.83 L398.03,621.82 L399.31,621.80 L400.59,621.78 L401.88,621.75 L403.16,621.72 L404.44,621.69 L405.73,621.65 L407.01,621.60 L408.29,621.56 L409.58,621.51 L410.86,621.46 L412.14,621.40 L413.43,621.34 L414.71,621.28 L415.99,621.22 L417.28,621.16 L418.56,621.09 L419.84,621.02 L421.13,620.96 L422.41,620.89 L423.69,620.82 L424.98,620.75 L426.26,620.68 L427.54,620.61 L428.83,620.54 L430.11,620.47 L431.39,620.40 L432.68,620.33 L433.96,620.27 L435.24,620.20 L436.53,620.14 L437.81,620.08 L439.09,620.01 L440.38,619.95 L441.66,619.90 L442.94,619.84 L444.23,619.79 L445.51,619.73 L446.79,619.68 L448.08,619.64 L449.36,619.59 L450.64,619.55 L451.93,619.51 L453.21,619.47 L454.49,619.43 L455.78,619.40 L457.06,619.37 L458.34,619.34 L459.63,619.31 L460.91,619.29 L462.19,619.27 L463.48,619.25 L464.76,619.24 L466.04,619.22 L467.33,619.21 L468.61,619.20 L469.89,619.19 L471.18,619.19 L472.46,619.19 L473.74,619.19 L475.03,619.19 L476.31,619.19 L477.59,619.19 L478.88,619.20 L480.16,619.21 L481.44,619.22 L482.73,619.23 L484.01,619.24 L485.29,619.26 L486.58,619.27 L487.86,619.29 L489.14,619.31 L490.43,619.33 L491.71,619.35 L492.99,619.37 L494.28,619.39 L495.56,619.41 L496.84,619.44 L498.13,619.46 L499.41,619.48 L500.69,619.51 L501.98,619.53 L503.26,619.55 L504.54,619.58 L505.83,619.60 L507.11,619.63 L508.39,619.65 L509.68,619.68 L510.96,619.70 L512.24,619.72 L513.53,619.75 L514.81,619.77 L516.09,619.79 L517.38,619.81 L518.66,619.83 L519.94,619.85 L521.23,619.87 L522.51,619.89 L523.79,619.91 L525.08,619.93 L526.36,619.95 L527.64,619.96 L528.93,619.98 L530.21,619.99 L531.49,620.01 L532.78,620.02 L534.06,620.03 L535.34,620.04 L536.63,620.05 L537.91,620.06 L539.19,620.07 L540.48,620.08 L541.76,620.09 L543.04,620.09 L544.33,620.10 L545.61,620.10 L546.89,620.11 L548.18,620.11 L549.46,620.11 L550.74,620.11 L552.03,620.11 L553.31,620.11 L554.59,620.11 L555.88,620.11 L557.16,620.11 L558.44,620.11 L559.73,620.10 L561.01,620.10 L562.29,620.09 L563.58,620.09 L564.86,620.08 L566.14,620.08 L567.43,620.07 L568.71,620.07 L569.99,620.06 L571.28,620.05 L572.56,620.05 L573.84,620.04 L575.13,620.03 L576.41,620.02 L577.69,620.01 L578.98,620.01 L580.26,620.00 L581.54,619.99 L582.83,619.98 L584.11,619.97 L585.39,619.96 L586.68,619.95 L587.96,619.95 L589.24,619.94 L590.53,619.93 L591.81,619.92 L593.09,619.91 L594.38,619.91 L595.66,619.90 L596.94,619.89 L598.22,619.88 L599.51,619.88 L600.79,619.87 L602.07,619.86 L603.36,619.86 L604.64,619.85" fill="none" stroke="#0c0cd0" stroke-width="2.6" stroke-dasharray="5 4.5"/>
<path d="M92.60,730.38 L93.91,729.64 L95.23,728.70 L96.54,727.57 L97.86,726.25 L99.17,724.75 L100.49,723.08 L101.80,721.23 L103.11,719.22 L104.43,717.06 L105.74,714.74 L107.06,712.27 L108.37,709.67 L109.69,706.93 L111.00,704.07 L112.31,701.08 L113.63,697.99 L114.94,694.79 L116.26,691.49 L117.57,688.10 L118.89,684.62 L120.20,681.07 L121.51,677.45 L122.83,673.76 L124.14,670.01 L125.46,666.22 L126.77,662.38 L128.08,658.51 L129.40,654.61 L130.71,650.69 L132.03,646.75 L133.34,642.81 L134.66,638.86 L135.97,634.91 L137.28,630.98 L138.60,627.06 L139.91,623.17 L141.23,619.30 L142.54,615.47 L143.86,611.69 L145.17,607.94 L146.48,604.25 L147.80,600.61 L149.11,597.04 L150.43,593.53 L151.74,590.09 L153.06,586.72 L154.37,583.44 L155.68,580.23 L157.00,577.12 L158.31,574.09 L159.63,571.16 L160.94,568.33 L162.26,565.59 L163.57,562.96 L164.88,560.43 L166.20,558.01 L167.51,555.70 L168.83,553.51 L170.14,551.42 L171.46,549.45 L172.77,547.60 L174.08,545.86 L175.40,544.24 L176.71,542.74 L178.03,541.36 L179.34,540.10 L180.66,538.96 L181.97,537.94 L183.28,537.03 L184.60,536.25 L185.91,535.58 L187.23,535.03 L188.54,534.59 L189.86,534.27 L191.17,534.07 L192.48,533.97 L193.80,533.98 L195.11,534.10 L196.43,534.33 L197.74,534.66 L199.05,535.10 L200.37,535.63 L201.68,536.26 L203.00,536.98 L204.31,537.79 L205.63,538.69 L206.94,539.68 L208.25,540.75 L209.57,541.90 L210.88,543.13 L212.20,544.43 L213.51,545.79 L214.83,547.23 L216.14,548.73 L217.45,550.28 L218.77,551.89 L220.08,553.56 L221.40,555.27 L222.71,557.03 L224.03,558.83 L225.34,560.67 L226.65,562.54 L227.97,564.44 L229.28,566.37 L230.60,568.32 L231.91,570.29 L233.23,572.28 L234.54,574.28 L235.85,576.30 L237.17,578.31 L238.48,580.33 L239.80,582.35 L241.11,584.37 L242.43,586.38 L243.74,588.38 L245.05,590.36 L246.37,592.33 L247.68,594.28 L249.00,596.21 L250.31,598.11 L251.63,599.98 L252.94,601.83 L254.25,603.64 L255.57,605.42 L256.88,607.16 L258.20,608.86 L259.51,610.52 L260.82,612.13 L262.14,613.70 L263.45,615.23 L264.77,616.70 L266.08,618.13 L267.40,619.50 L268.71,620.82 L270.02,622.08 L271.34,623.29 L272.65,624.44 L273.97,625.54 L275.28,626.57 L276.60,627.55 L277.91,628.47 L279.22,629.32 L280.54,630.12 L281.85,630.86 L283.17,631.53 L284.48,632.14 L285.80,632.70 L287.11,633.19 L288.42,633.62 L289.74,633.99 L291.05,634.30 L292.37,634.55 L293.68,634.74 L295.00,634.88 L296.31,634.95 L297.62,634.97 L298.94,634.94 L300.25,634.85 L301.57,634.70 L302.88,634.51 L304.20,634.26 L305.51,633.96 L306.82,633.62 L308.14,633.22 L309.45,632.78 L310.77,632.30 L312.08,631.77 L313.40,631.20 L314.71,630.59 L316.02,629.95 L317.34,629.26 L318.65,628.54 L319.97,627.79 L321.28,627.01 L322.60,626.20 L323.91,625.36 L325.22,624.50 L326.54,623.61 L327.85,622.70 L329.17,621.77 L330.48,620.82 L331.79,619.85 L333.11,618.87 L334.42,617.88 L335.74,616.87 L337.05,615.86 L338.37,614.84 L339.68,613.81 L340.99,612.78 L342.31,611.75 L343.62,610.71 L344.94,609.68 L346.25,608.65 L347.57,607.63 L348.88,606.61 L350.19,605.60 L351.51,604.59 L352.82,603.60 L354.14,602.62 L355.45,601.66 L356.77,600.70 L358.08,599.77 L359.39,598.85 L360.71,597.95 L362.02,597.07 L363.34,596.21 L364.65,595.37 L365.97,594.56 L367.28,593.77 L368.59,593.00 L369.91,592.26 L371.22,591.55 L372.54,590.86 L373.85,590.20 L375.17,589.57 L376.48,588.96 L377.79,588.39 L379.11,587.84 L380.42,587.33 L381.74,586.84 L383.05,586.39 L384.37,585.97 L385.68,585.58 L386.99,585.22 L388.31,584.89 L389.62,584.59 L390.94,584.32 L392.25,584.09 L393.56,583.88 L394.88,583.71 L396.19,583.57 L397.51,583.45 L398.82,583.37 L400.14,583.32 L401.45,583.29 L402.76,583.30 L404.08,583.33 L405.39,583.39 L406.71,583.48 L408.02,583.59 L409.34,583.73 L410.65,583.90 L411.96,584.09 L413.28,584.30 L414.59,584.54 L415.91,584.80 L417.22,585.08 L418.54,585.38 L419.85,585.70 L421.16,586.04 L422.48,586.40 L423.79,586.78 L425.11,587.17 L426.42,587.58 L427.74,588.00 L429.05,588.44 L430.36,588.89 L431.68,589.35 L432.99,589.82 L434.31,590.30 L435.62,590.79 L436.94,591.29 L438.25,591.79 L439.56,592.31 L440.88,592.82 L442.19,593.34 L443.51,593.87 L444.82,594.39 L446.14,594.92 L447.45,595.45 L448.76,595.98 L450.08,596.51 L451.39,597.03 L452.71,597.56 L454.02,598.08 L455.33,598.59 L456.65,599.10 L457.96,599.60 L459.28,600.10 L460.59,600.59 L461.91,601.08 L463.22,601.55 L464.53,602.02 L465.85,602.47 L467.16,602.92 L468.48,603.35 L469.79,603.77 L471.11,604.18 L472.42,604.58 L473.73,604.97 L475.05,605.34 L476.36,605.70 L477.68,606.04 L478.99,606.37 L480.31,606.69 L481.62,606.99 L482.93,607.27 L484.25,607.55 L485.56,607.80 L486.88,608.04 L488.19,608.26 L489.51,608.47 L490.82,608.66 L492.13,608.84 L493.45,609.00 L494.76,609.14 L496.08,609.27 L497.39,609.38 L498.71,609.48 L500.02,609.56 L501.33,609.63 L502.65,609.68 L503.96,609.71 L505.28,609.73 L506.59,609.74 L507.91,609.73 L509.22,609.70 L510.53,609.66 L511.85,609.61 L513.16,609.55 L514.48,609.47 L515.79,609.38 L517.11,609.27 L518.42,609.16 L519.73,609.03 L521.05,608.89 L522.36,608.74 L523.68,608.58 L524.99,608.41 L526.30,608.23 L527.62,608.04 L528.93,607.85 L530.25,607.64 L531.56,607.43 L532.88,607.21 L534.19,606.98 L535.50,606.75 L536.82,606.51 L538.13,606.27 L539.45,606.02 L540.76,605.77 L542.08,605.51 L543.39,605.25 L544.70,604.99 L546.02,604.72 L547.33,604.45 L548.65,604.18 L549.96,603.91 L551.28,603.64 L552.59,603.37 L553.90,603.10 L555.22,602.83 L556.53,602.57 L557.85,602.30 L559.16,602.03 L560.48,601.77 L561.79,601.51 L563.10,601.26 L564.42,601.00 L565.73,600.75 L567.05,600.51 L568.36,600.27 L569.68,600.03 L570.99,599.80 L572.30,599.58 L573.62,599.36 L574.93,599.15 L576.25,598.94 L577.56,598.74 L578.88,598.55 L580.19,598.36 L581.50,598.18 L582.82,598.01 L584.13,597.84 L585.45,597.68 L586.76,597.53 L588.07,597.39 L589.39,597.26 L590.70,597.13 L592.02,597.01 L593.33,596.90 L594.65,596.80 L595.96,596.71 L597.27,596.62 L598.59,596.54 L599.90,596.47 L601.22,596.41 L602.53,596.36 L603.85,596.31 L605.16,596.28 L606.47,596.25 L607.79,596.23 L609.10,596.21 L610.42,596.21 L611.73,596.21 L613.05,596.22 L614.36,596.23 L615.67,596.26 L616.99,596.29" fill="none" stroke="#f01010" stroke-width="2.6" stroke-dasharray="5 4.5"/>
<circle cx="92.30" cy="733.50" r="5.4" fill="#0c0cd0"/><rect x="86.20" y="730.60" width="12.2" height="5.8" fill="#0c0cd0"/>
<circle cx="119.40" cy="642.20" r="5.4" fill="#0c0cd0"/><rect x="113.30" y="639.30" width="12.2" height="5.8" fill="#0c0cd0"/>
<circle cx="146.20" cy="580.00" r="5.4" fill="#0c0cd0"/><rect x="140.10" y="577.10" width="12.2" height="5.8" fill="#0c0cd0"/>
<circle cx="172.90" cy="584.60" r="5.4" fill="#0c0cd0"/><rect x="166.80" y="581.70" width="12.2" height="5.8" fill="#0c0cd0"/>
<circle cx="200.00" cy="613.20" r="5.4" fill="#0c0cd0"/><rect x="193.90" y="610.30" width="12.2" height="5.8" fill="#0c0cd0"/>
<circle cx="226.20" cy="635.40" r="5.4" fill="#0c0cd0"/><rect x="220.10" y="632.50" width="12.2" height="5.8" fill="#0c0cd0"/>
<circle cx="252.90" cy="635.20" r="5.4" fill="#0c0cd0"/><rect x="246.80" y="632.30" width="12.2" height="5.8" fill="#0c0cd0"/>
<circle cx="279.00" cy="623.70" r="5.4" fill="#0c0cd0"/><rect x="272.90" y="620.80" width="12.2" height="5.8" fill="#0c0cd0"/>
<circle cx="306.00" cy="615.40" r="5.4" fill="#0c0cd0"/><rect x="299.90" y="612.50" width="12.2" height="5.8" fill="#0c0cd0"/>
<circle cx="332.50" cy="616.30" r="5.4" fill="#0c0cd0"/><rect x="326.40" y="613.40" width="12.2" height="5.8" fill="#0c0cd0"/>
<circle cx="359.80" cy="620.60" r="5.4" fill="#0c0cd0"/><rect x="353.70" y="617.70" width="12.2" height="5.8" fill="#0c0cd0"/>
<circle cx="386.30" cy="623.70" r="5.4" fill="#0c0cd0"/><rect x="380.20" y="620.80" width="12.2" height="5.8" fill="#0c0cd0"/>
<circle cx="413.00" cy="622.80" r="5.4" fill="#0c0cd0"/><rect x="406.90" y="619.90" width="12.2" height="5.8" fill="#0c0cd0"/>
<circle cx="440.00" cy="617.50" r="5.4" fill="#0c0cd0"/><rect x="433.90" y="614.60" width="12.2" height="5.8" fill="#0c0cd0"/>
<circle cx="466.80" cy="617.00" r="5.4" fill="#0c0cd0"/><rect x="460.70" y="614.10" width="12.2" height="5.8" fill="#0c0cd0"/>
<circle cx="493.20" cy="617.50" r="5.4" fill="#0c0cd0"/><rect x="487.10" y="614.60" width="12.2" height="5.8" fill="#0c0cd0"/>
<circle cx="520.00" cy="619.00" r="5.4" fill="#0c0cd0"/><rect x="513.90" y="616.10" width="12.2" height="5.8" fill="#0c0cd0"/>
<circle cx="546.80" cy="617.50" r="5.4" fill="#0c0cd0"/><rect x="540.70" y="614.60" width="12.2" height="5.8" fill="#0c0cd0"/>
<circle cx="573.20" cy="618.50" r="5.4" fill="#0c0cd0"/><rect x="567.10" y="615.60" width="12.2" height="5.8" fill="#0c0cd0"/>
<circle cx="600.00" cy="617.50" r="5.4" fill="#0c0cd0"/><rect x="593.90" y="614.60" width="12.2" height="5.8" fill="#0c0cd0"/>
<circle cx="92.30" cy="735.40" r="5.4" fill="#f80808"/><rect x="86.20" y="732.50" width="12.2" height="5.8" fill="#f80808"/>
<circle cx="120.00" cy="677.80" r="5.4" fill="#f80808"/><rect x="113.90" y="674.90" width="12.2" height="5.8" fill="#f80808"/>
<circle cx="147.70" cy="600.60" r="5.4" fill="#f80808"/><rect x="141.60" y="597.70" width="12.2" height="5.8" fill="#f80808"/>
<circle cx="175.70" cy="552.30" r="5.4" fill="#f80808"/><rect x="169.60" y="549.40" width="12.2" height="5.8" fill="#f80808"/>
<circle cx="203.00" cy="535.40" r="5.4" fill="#f80808"/><rect x="196.90" y="532.50" width="12.2" height="5.8" fill="#f80808"/>
<circle cx="230.80" cy="567.70" r="5.4" fill="#f80808"/><rect x="224.70" y="564.80" width="12.2" height="5.8" fill="#f80808"/>
<circle cx="258.40" cy="608.90" r="5.4" fill="#f80808"/><rect x="252.30" y="606.00" width="12.2" height="5.8" fill="#f80808"/>
<circle cx="286.00" cy="632.30" r="5.4" fill="#f80808"/><rect x="279.90" y="629.40" width="12.2" height="5.8" fill="#f80808"/>
<circle cx="313.70" cy="630.20" r="5.4" fill="#f80808"/><rect x="307.60" y="627.30" width="12.2" height="5.8" fill="#f80808"/>
<circle cx="340.80" cy="609.20" r="5.4" fill="#f80808"/><rect x="334.70" y="606.30" width="12.2" height="5.8" fill="#f80808"/>
<circle cx="368.50" cy="590.80" r="5.4" fill="#f80808"/><rect x="362.40" y="587.90" width="12.2" height="5.8" fill="#f80808"/>
<circle cx="396.80" cy="587.70" r="5.4" fill="#f80808"/><rect x="390.70" y="584.80" width="12.2" height="5.8" fill="#f80808"/>
<circle cx="423.80" cy="583.70" r="5.4" fill="#f80808"/><rect x="417.70" y="580.80" width="12.2" height="5.8" fill="#f80808"/>
<circle cx="450.70" cy="597.00" r="5.4" fill="#f80808"/><rect x="444.60" y="594.10" width="12.2" height="5.8" fill="#f80808"/>
<circle cx="479.00" cy="609.20" r="5.4" fill="#f80808"/><rect x="472.90" y="606.30" width="12.2" height="5.8" fill="#f80808"/>
<circle cx="506.20" cy="612.30" r="5.4" fill="#f80808"/><rect x="500.10" y="609.40" width="12.2" height="5.8" fill="#f80808"/>
<circle cx="533.80" cy="613.80" r="5.4" fill="#f80808"/><rect x="527.70" y="610.90" width="12.2" height="5.8" fill="#f80808"/>
<circle cx="561.50" cy="600.00" r="5.4" fill="#f80808"/><rect x="555.40" y="597.10" width="12.2" height="5.8" fill="#f80808"/>
<circle cx="589.20" cy="592.30" r="5.4" fill="#f80808"/><rect x="583.10" y="589.40" width="12.2" height="5.8" fill="#f80808"/>
<circle cx="617.00" cy="590.20" r="5.4" fill="#f80808"/><rect x="610.90" y="587.30" width="12.2" height="5.8" fill="#f80808"/>
<circle cx="110" cy="469.2" r="5.6" fill="#f80808"/><circle cx="110" cy="489.6" r="5.6" fill="#0c0cd0"/>
<text transform="translate(123.20,473.80) scale(1,1.0)" font-size="16.2" text-anchor="start" fill="#111" stroke="#111" >With QEC</text>
<text transform="translate(123.20,493.80) scale(1,1.0)" font-size="16.2" text-anchor="start" fill="#111" stroke="#111" >Without QEC</text>
<text transform="translate(258.3,582.2) scale(1,1.0)" font-size="16.2" fill="#f01010" stroke="#f01010"><tspan font-family="Liberation Serif, serif" font-style="italic">τ</tspan> = 207 ± 4 <tspan font-family="Liberation Serif, serif">µ</tspan>s</text>
<text transform="translate(142.5,676.2) scale(1,1.0)" font-size="16.2" fill="#1414d8" stroke="#1414d8"><tspan font-family="Liberation Serif, serif" font-style="italic">τ</tspan> = 101 ± 1 <tspan font-family="Liberation Serif, serif">µ</tspan>s</text>
<rect x="249.1" y="448.1" width="370.2" height="87.8" fill="#fff" stroke="#c62222" stroke-width="1.6"/>
<text transform="translate(259.00,473.20) scale(1,1.0)" font-size="16.2" text-anchor="start" fill="#111" stroke="#111" >Ancilla</text>
<text transform="translate(259.00,504.00) scale(1,1.0)" font-size="16.2" text-anchor="start" fill="#111" stroke="#111" >Oscillator</text>
<line x1="304" x2="588.2" y1="509.7" y2="509.7" stroke="#111" stroke-width="3"/>
<line x1="304" x2="580" y1="483.7" y2="483.7" stroke="#111" stroke-width="2.9"/>
<rect x="334" y="457.3" width="31.00" height="73.10" rx="6" ry="6" fill="#fff" stroke="#111" stroke-width="2.5"/>
<text transform="translate(353.60,492.00) rotate(-90) scale(1,1.0)" font-size="16.2" text-anchor="middle" fill="#111" stroke="#111">Encode</text>
<rect x="375.7" y="476.1" width="39.70" height="41.00" fill="#111"/><rect x="378.5" y="480.2" width="34.50" height="33.10" fill="#fff"/>
<text transform="translate(394.30,503.40) scale(1,1.0)" font-size="16.2" text-anchor="middle" fill="#111" stroke="#111" >X90</text>
<rect x="424.2" y="471" width="50.80" height="51.60" rx="9" ry="9" fill="#fff" stroke="#111" stroke-width="2.5"/>
<text transform="translate(450.60,503.40) scale(1,1.0)" font-size="16.2" text-anchor="middle" fill="#111" stroke="#111" >QEC</text>
<rect x="482.6" y="476.1" width="40.60" height="41.00" fill="#111"/><rect x="485.3" y="480.1" width="34.90" height="33.30" fill="#fff"/>
<text transform="translate(503.00,503.80) scale(1,1.0)" font-size="16.2" text-anchor="middle" fill="#111" stroke="#111" >R90</text>
<rect x="531.9" y="457.2" width="32.10" height="72.60" rx="6" ry="6" fill="#fff" stroke="#111" stroke-width="2.5"/>
<text transform="translate(553.30,494.00) rotate(-90) scale(1,1.0)" font-size="16.2" text-anchor="middle" fill="#111" stroke="#111">Decode</text>
<rect x="576.4" y="463" width="36.50" height="31.20" rx="5" ry="5" fill="#fff" stroke="#111" stroke-width="2.5"/>
<text transform="translate(594.60,485.40) scale(1,1.0)" font-size="16.2" text-anchor="middle" fill="#111" stroke="#111" >M</text>
<rect x="250.2" y="665.5" width="369.5" height="86.9" fill="#fff" stroke="#3154a6" stroke-width="1.35"/>
<text transform="translate(259.00,688.50) scale(1,1.0)" font-size="16.2" text-anchor="start" fill="#111" stroke="#111" >Ancilla</text>
<text transform="translate(259.00,720.80) scale(1,1.0)" font-size="16.2" text-anchor="start" fill="#111" stroke="#111" >Oscillator</text>
<line x1="303" x2="586" y1="725" y2="725" stroke="#111" stroke-width="3.1"/>
<line x1="303" x2="580" y1="698.5" y2="698.5" stroke="#111" stroke-width="3.7"/>
<rect x="332.4" y="672.5" width="31.20" height="72.50" rx="6" ry="6" fill="#fff" stroke="#111" stroke-width="2.5"/>
<text transform="translate(352.30,707.00) rotate(-90) scale(1,1.0)" font-size="16.2" text-anchor="middle" fill="#111" stroke="#111">Encode</text>
<rect x="374.2" y="691.1" width="40.30" height="41.10" fill="#111"/><rect x="377.2" y="694.8" width="33.60" height="33.60" fill="#fff"/>
<text transform="translate(392.80,718.30) scale(1,1.0)" font-size="16.2" text-anchor="middle" fill="#111" stroke="#111" >X90</text>
<rect x="422.3" y="686" width="50.80" height="51.60" rx="9" ry="9" fill="#fff" stroke="#111" stroke-width="2.5"/>
<text transform="translate(448.30,718.30) scale(1,1.0)" font-size="16.2" text-anchor="middle" fill="#111" stroke="#111" letter-spacing="0.5">Wait</text>
<rect x="481.1" y="691.4" width="40.60" height="40.80" fill="#111"/><rect x="484.2" y="694.8" width="34.70" height="33.60" fill="#fff"/>
<text transform="translate(501.90,719.10) scale(1,1.0)" font-size="16.2" text-anchor="middle" fill="#111" stroke="#111" >X90</text>
<rect x="530.5" y="673" width="31.80" height="71.80" rx="6" ry="6" fill="#fff" stroke="#111" stroke-width="2.5"/>
<text transform="translate(552.00,709.00) rotate(-90) scale(1,1.0)" font-size="16.2" text-anchor="middle" fill="#111" stroke="#111">Decode</text>
<rect x="574.8" y="678" width="36.70" height="31.80" rx="5" ry="5" fill="#fff" stroke="#111" stroke-width="2.5"/>
<text transform="translate(593.00,700.60) scale(1,1.0)" font-size="16.2" text-anchor="middle" fill="#111" stroke="#111" >M</text>
</g>
</svg>
</body></html>
